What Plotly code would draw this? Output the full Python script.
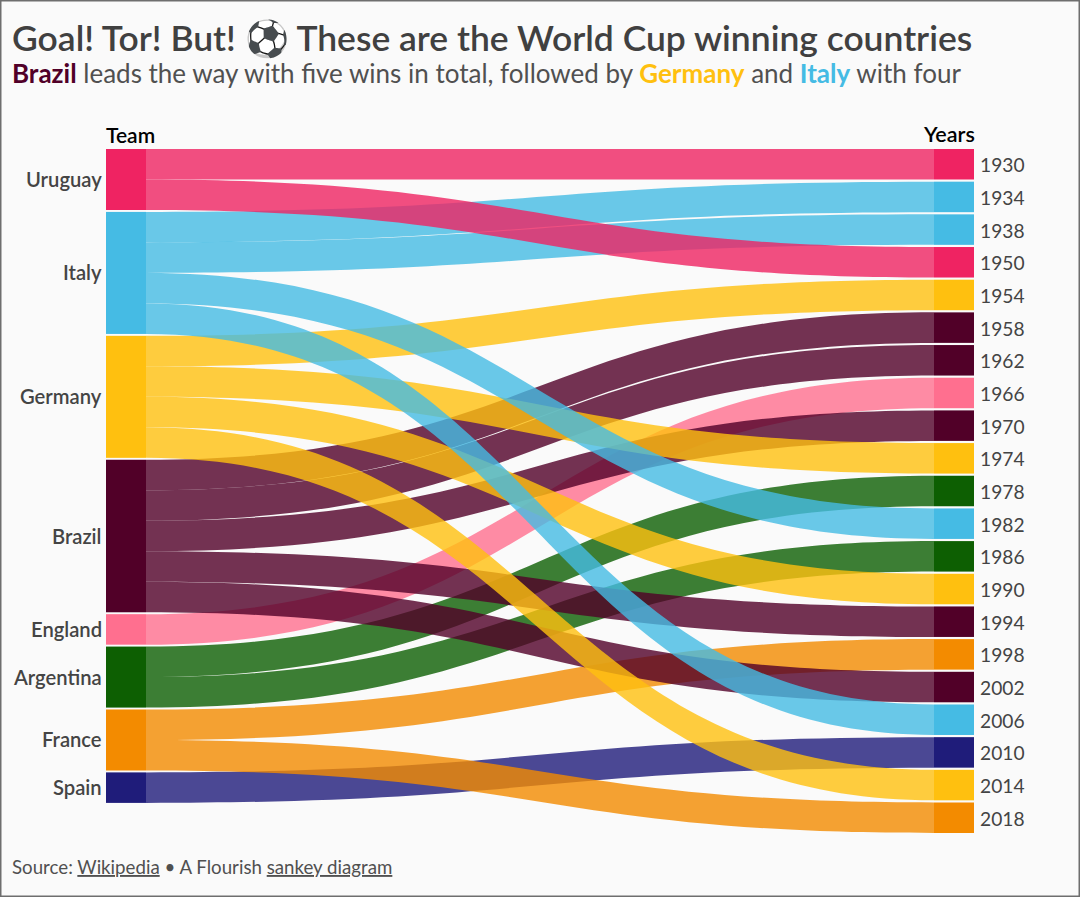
import plotly.graph_objects as go

TEAMS = ["Uruguay", "Italy", "Germany", "Brazil", "England", "Argentina", "France", "Spain"]
TEAM_COLORS = ["#EF2362", "#45BBE4", "#FFC00F", "#510028", "#FF6F8F", "#0D5F02", "#F38B00", "#1F1C7A"]
YEARS = [1930, 1934, 1938, 1950, 1954, 1958, 1962, 1966, 1970, 1974, 1978,
         1982, 1986, 1990, 1994, 1998, 2002, 2006, 2010, 2014, 2018]
WINNERS = ["Uruguay", "Italy", "Italy", "Uruguay", "Germany", "Brazil", "Brazil", "England",
           "Brazil", "Germany", "Argentina", "Italy", "Argentina", "Germany", "Brazil",
           "France", "Brazil", "Italy", "Spain", "Germany", "France"]
WIN_VALUE = 1
LINK_ALPHA = 0.8

W, H = 1080, 897
L, R, T, B = 106, 974, 149, 833
PW, PH = R - L, B - T
THICK = 40
PAD = 2.17
TEAM_GAP = 1.9
UNIT = (PH - PAD * (len(YEARS) - 1)) / len(YEARS)


def px(x):
    return (x - L) / PW


def py(y):
    return (B - y) / PH


def rgba(h, a):
    return f"rgba({int(h[1:3],16)},{int(h[3:5],16)},{int(h[5:7],16)},{a})"


team_counts = [WINNERS.count(t) for t in TEAMS]
team_c = []
cur = 0.0
for c in team_counts:
    team_c.append(cur + c * UNIT / 2)
    cur += c * UNIT + TEAM_GAP
year_c = [i * (UNIT + PAD) + UNIT / 2 for i in range(len(YEARS))]

year_colors = [TEAM_COLORS[TEAMS.index(w)] for w in WINNERS]
n_t = len(TEAMS)

fig = go.Figure(go.Sankey(
    arrangement="fixed",
    domain=dict(x=[0, 1], y=[0, 1]),
    node=dict(
        label=[""] * (n_t + len(YEARS)),
        color=TEAM_COLORS + year_colors,
        thickness=THICK,
        pad=PAD,
        line=dict(width=0),
        x=[(THICK / 2) / PW] * n_t + [1 - (THICK / 2) / PW] * len(YEARS),
        y=[c / PH for c in team_c] + [c / PH for c in year_c],
    ),
    link=dict(
        source=[TEAMS.index(w) for w in WINNERS],
        target=[n_t + i for i in range(len(YEARS))],
        value=[WIN_VALUE] * len(YEARS),
        color=[rgba(TEAM_COLORS[TEAMS.index(w)], LINK_ALPHA) for w in WINNERS],
        line=dict(width=0),
    ),
))

ann = []


def text(x, y, s, size, color="#444444", anchor="left", weight=None):
    ann.append(dict(x=px(x), y=py(y), xref="paper", yref="paper", text=s, showarrow=False,
                    xanchor=anchor, yanchor="middle", align=anchor, borderpad=0, borderwidth=0,
                    font=dict(family="Lato", size=size, color=color, weight=weight)))


text(12, 37, "Goal! Tor! But! ⚽ These are the World Cup winning countries", 35.45, "#404040", weight=600)
text(12, 73, ("<b style='color:#510028'>Brazil</b> leads the way with five wins in total, followed by "
              "<b style='color:#FFC00F'>Germany</b> and <b style='color:#45BBE4'>Italy</b> with four"),
     26, "#505050")
text(106, 134, "Team", 21, "#000000", weight=600)
text(975, 134, "Years", 21.5, "#000000", "right", weight=600)
for t, c in zip(TEAMS, team_c):
    text(102, T + c - 0.5, t, 20.2, "#444444", "right", weight=600)
for y, c in zip(YEARS, year_c):
    text(979.5, T + c + 0.5, str(y), 19.2, "#444444")
text(12, 867, "Source: <u>Wikipedia</u> • A Flourish <u>sankey diagram</u>", 18.7, "#505050")

fig.update_layout(
    width=W, height=H,
    margin=dict(l=L, r=W - R, t=T, b=H - B, pad=0),
    paper_bgcolor="#FAFAFA",
    font=dict(family="Lato"),
    annotations=ann,
    shapes=[dict(type="rect", xref="paper", yref="paper", x0=px(0.5), x1=px(W - 0.5), y0=py(0.5), y1=py(H - 0.5),
                 line=dict(color="#6E6E6E", width=2), fillcolor="rgba(0,0,0,0)", layer="above")],
)
fig.write_html("out.html", config=dict(displayModeBar=False), post_script="document.body.style.margin='0';")
